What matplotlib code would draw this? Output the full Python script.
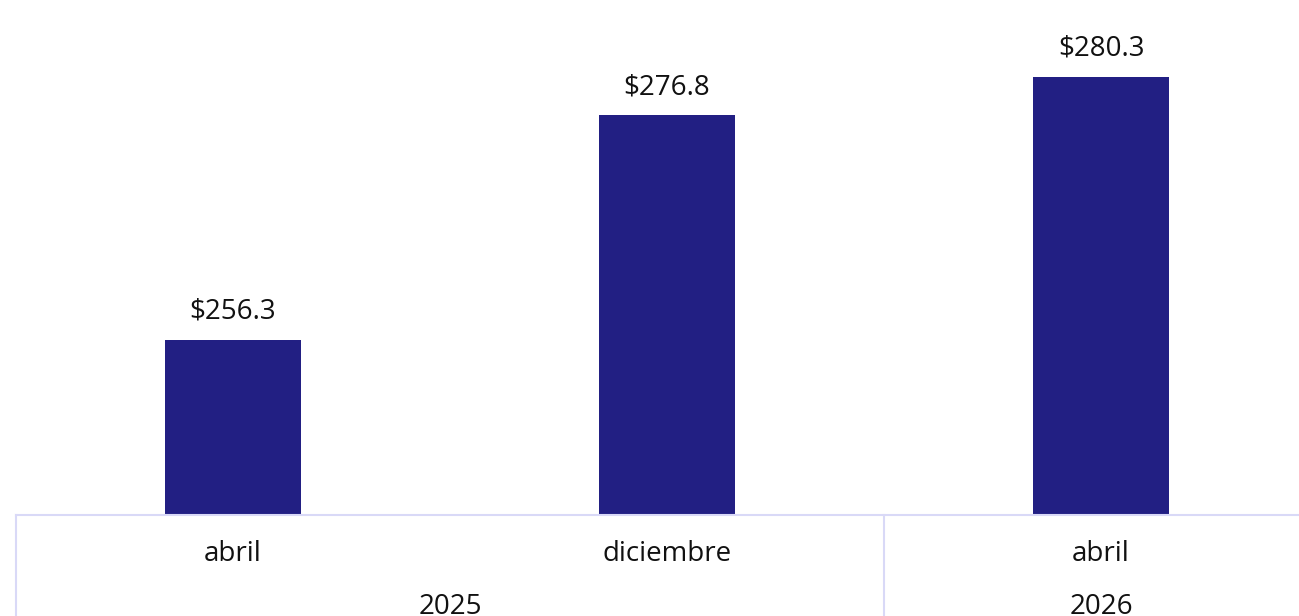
import matplotlib
matplotlib.use("Agg")
import matplotlib.pyplot as plt
import matplotlib.transforms as mtransforms

# Data
months = ["abril", "diciembre", "abril"]
values = [256.3, 276.8, 280.3]
years = ["2025", "2026"]
year_pos = [0.5, 2.0]      # centre of each year group (category units)
year_breaks = [-0.5, 1.5]  # where a new year group starts

bar_color = "#221F83"
line_color = "#D9D9F7"

plt.rcParams["font.family"] = ["Open Sans", "DejaVu Sans"]

fig = plt.figure(figsize=(12.99, 6.16), dpi=100)
ax = fig.add_axes([16 / 1299, 101 / 616, 1302 / 1299, 515 / 616])

x = list(range(len(values)))
ax.bar(x, values, width=0.313, color=bar_color, zorder=2)
ax.set_xlim(-0.5, 2.5)
ax.set_ylim(240.3, 287.3)

for xi, v in zip(x, values):
    ax.annotate(f"${v:.1f}", (xi, v), xytext=(0, 20), textcoords="offset points",
                ha="center", va="center", fontsize=20, color="#111111")

# remove the default axis decorations
for s in ["top", "right", "left"]:
    ax.spines[s].set_visible(False)
ax.spines["bottom"].set_color(line_color)
ax.spines["bottom"].set_linewidth(1.5)
ax.set_yticks([])
ax.set_xticks([])

trans = mtransforms.blended_transform_factory(ax.transData, ax.transAxes)

# month labels
for xi, m in zip(x, months):
    ax.text(xi, -39 / 515, m, transform=trans, ha="center", va="center",
            fontsize=20, color="#111111")

# year labels
for xp, yr in zip(year_pos, years):
    ax.text(xp, -92 / 515, yr, transform=trans, ha="center", va="center",
            fontsize=20, color="#111111")

# group separators
for xb in year_breaks:
    ax.plot([xb, xb], [0, -0.3], transform=trans, color=line_color,
            linewidth=1.5, clip_on=False)

fig.savefig("out.png", dpi=100)
